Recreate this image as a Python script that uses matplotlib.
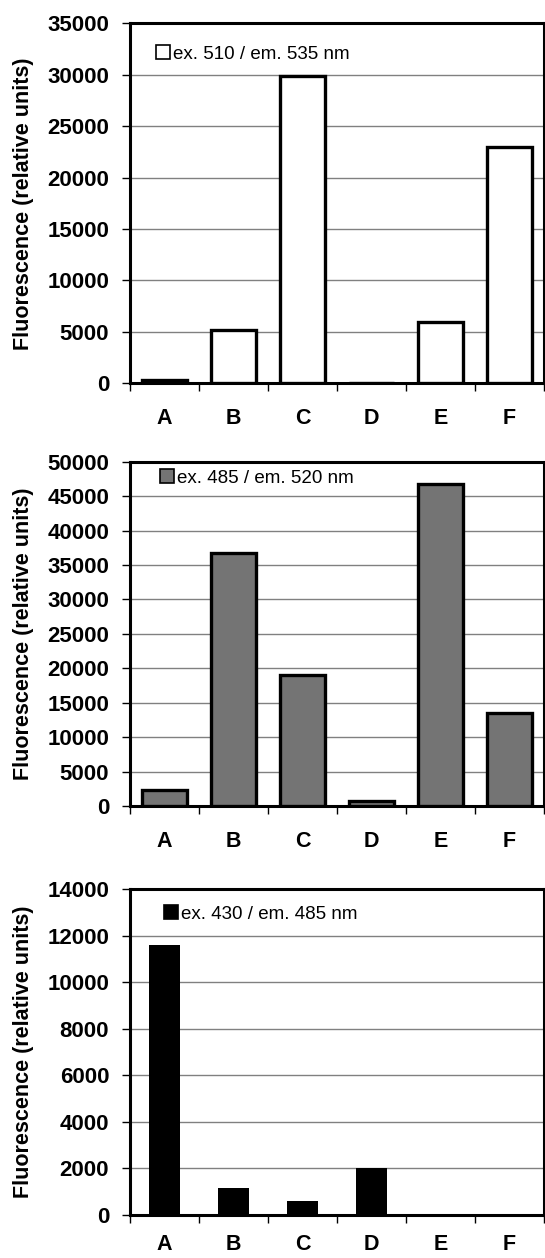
import numpy as np
import matplotlib.pyplot as plt
from matplotlib.patches import Patch

plt.rcParams['font.family'] = ['Liberation Sans', 'DejaVu Sans']

# Sample categories
samples = ['A', 'B', 'C', 'D', 'E', 'F']

# Fluorescence per filter set (relative units)
ex510_em535 = [320, 5200, 29850, 0, 6000, 22950]
ex485_em520 = [2300, 36700, 19050, 700, 46750, 13500]
ex430_em485 = [11600, 1180, 600, 2040, 0, 0]

legend_labels = ['ex. 510 / em. 535 nm', 'ex. 485 / em. 520 nm', 'ex. 430 / em. 485 nm']
y_max = [35000, 50000, 14000]
y_step = [5000, 5000, 2000]

fig = plt.figure(figsize=(5.45, 12.58), dpi=100)

# axes boxes in figure fraction: left, bottom, width, height
boxes = [
    [0.2385, 0.6953, 0.7596, 0.2862],
    [0.2385, 0.3593, 0.7596, 0.2737],
    [0.2385, 0.0342, 0.7596, 0.2589],
]
legend_pos = [(0.062, 0.915), (0.072, 0.953), (0.082, 0.924)]
xlabel_pad = [18, 18, 14]

x = np.arange(len(samples))

for i, values in enumerate([ex510_em535, ex485_em520, ex430_em485]):
    ax = fig.add_axes(boxes[i])

    if i == 0:
        fc, ec, lw, w = 'white', 'black', 2.4, 0.64
    elif i == 1:
        fc, ec, lw, w = '#747474', 'black', 2.4, 0.64
    else:
        fc, ec, lw, w = 'black', 'black', 0, 0.445

    ax.bar(x, values, width=w, facecolor=fc, edgecolor=ec, linewidth=lw, zorder=3)

    ax.set_xlim(-0.5, 5.5)
    ax.set_ylim(0, y_max[i])
    ax.set_yticks(np.arange(0, y_max[i] + 1, y_step[i]))
    ax.yaxis.grid(True, color='#808080', linewidth=1.0, zorder=0)

    ax.set_xticks(x)
    ax.set_xticklabels(samples, fontweight='bold')
    ax.set_xticks(np.arange(-0.5, 6, 1), minor=True)
    ax.tick_params(axis='x', which='major', length=0, pad=xlabel_pad[i], labelsize=15.5)
    ax.tick_params(axis='x', which='minor', length=6, width=1, direction='out')
    ax.tick_params(axis='y', length=6, width=1, pad=9, labelsize=16)
    for lab in ax.get_yticklabels():
        lab.set_fontweight('bold')

    for s in ax.spines.values():
        s.set_linewidth(2.2)

    ax.set_ylabel('Fluorescence (relative units)', fontsize=15.5, fontweight='bold')
    ax.yaxis.set_label_coords(-0.232, 0.5)

    handle = Patch(facecolor=fc, edgecolor='black', linewidth=1.2)
    ax.legend([handle], [legend_labels[i]], loc='center left',
              bbox_to_anchor=legend_pos[i], frameon=False, fontsize=13.5,
              handlelength=0.75, handleheight=0.75, handletextpad=0.15,
              borderpad=0, borderaxespad=0)

plt.savefig('out.png', dpi=100)
